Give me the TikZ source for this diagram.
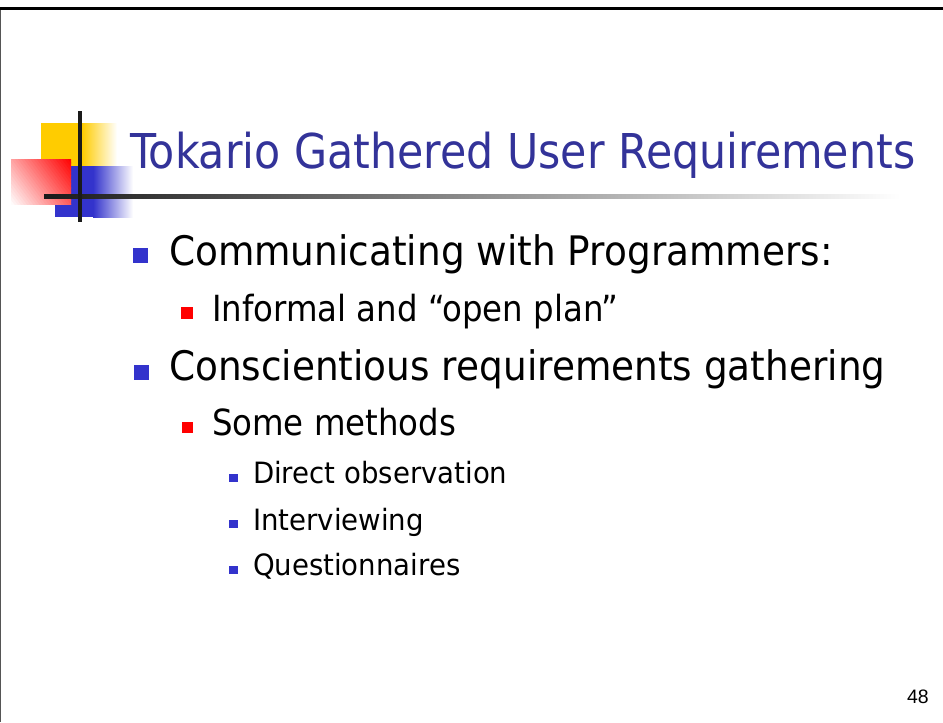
\documentclass[tikz,border=0pt]{standalone}
\usepackage{fontspec}
\setmainfont{DejaVu Sans}[FakeStretch=0.88]
\newfontfamily\titlefam{DejaVu Sans}[FakeStretch=0.89]
\newfontfamily\onefam{DejaVu Sans}[FakeStretch=0.92]
\newfontfamily\twofam{DejaVu Sans}[FakeStretch=0.9]
\newfontfamily\threefam{DejaVu Sans}[FakeStretch=0.94]
\newfontfamily\numfont{Liberation Sans}
\definecolor{titleblue}{HTML}{333399}
\definecolor{bulletblue}{HTML}{3333CC}
\definecolor{logoyellow}{HTML}{FFCC00}
\definecolor{barblack}{HTML}{1A1A1A}
\definecolor{framegray}{HTML}{555555}
\begin{document}
\begin{tikzpicture}[x=0.75pt,y=-0.75pt,
  txt/.style={anchor=base west, inner sep=0pt, outer sep=0pt},
  sq/.style={fill=#1, draw=none, inner sep=0pt, outer sep=0pt, anchor=north west},
  titlefont/.style={font=\titlefam\fontsize{36}{40}\selectfont, text=titleblue},
  lvlone/.style={font=\onefam\fontsize{30.5}{34}\selectfont},
  lvltwo/.style={font=\twofam\fontsize{27}{30}\selectfont},
  lvlthree/.style={font=\threefam\fontsize{22}{25}\selectfont}
]
\useasboundingbox (0,0) rectangle (943,722);
\fill[white] (0,0) rectangle (943,722);
% frame
\fill[black] (0,7) rectangle (943,10);
\fill[framegray] (0,10) rectangle (1.3,722);
% logo
\fill[logoyellow] (41,123) rectangle (82,167);
\shade[left color=logoyellow, right color=white] (82,123) rectangle (117,167);
\fill[bulletblue] (55,166) rectangle (93,217);
\shade[left color=bulletblue, right color=white] (93,166) rectangle (133,217);
\begin{scope}
  \clip (11,159) rectangle (71,204);
  \foreach \i in {0,...,29}{
    \pgfmathsetmacro{\sa}{75*\i/30}
    \pgfmathsetmacro{\sb}{75*(\i+1)/30+0.6}
    \pgfmathsetmacro{\pc}{100*(\i+0.5)/30}
    \fill[red!\pc!white] ({11+0.8*\sa-60},{204-0.6*\sa-80}) -- ({11+0.8*\sa+60},{204-0.6*\sa+80})
      -- ({11+0.8*\sb+60},{204-0.6*\sb+80}) -- ({11+0.8*\sb-60},{204-0.6*\sb-80}) -- cycle;
  }
\end{scope}
\shade[left color=barblack, right color=white] (44,194) rectangle (900,198);
\fill[barblack] (78,111) rectangle (82,222);
% title
\node[txt, titlefont] (title) at (130,168) {Tokario Gathered User Requirements};
% bullets
\node[sq=bulletblue, minimum width=11.5pt, minimum height=11.25pt] (b1) at (133,248) {};
\node[txt, lvlone] (t1) at (169,265) {Communicating with Programmers:};
\node[sq=red, minimum size=9pt] (b2) at (181,307) {};
\node[txt, lvltwo] (t2) at (212,321) {Informal and “open plan”};
\node[sq=bulletblue, minimum width=11.5pt, minimum height=11.25pt] (b3) at (134,365) {};
\node[txt, lvlone] (t3) at (169,380) {Conscientious requirements gathering};
\node[sq=red, minimum size=8.5pt] (b4) at (182,422) {};
\node[txt, lvltwo] (t4) at (212,435) {Some methods};
\node[sq=bulletblue, minimum width=6.75pt, minimum height=6pt] (b5) at (229,474) {};
\node[txt, lvlthree] (t5) at (253,483) {Direct observation};
\node[sq=bulletblue, minimum width=6.75pt, minimum height=6pt] (b6) at (229,520) {};
\node[txt, lvlthree] (t6) at (253,530) {Interviewing};
\node[sq=bulletblue, minimum width=6.75pt, minimum height=6pt] (b7) at (229,566) {};
\node[txt, lvlthree] (t7) at (253,575) {Questionnaires};
% page number
\node[txt, font=\numfont\fontsize{14.6}{16}\selectfont] (pg) at (907,703) {48};
\end{tikzpicture}
\end{document}
